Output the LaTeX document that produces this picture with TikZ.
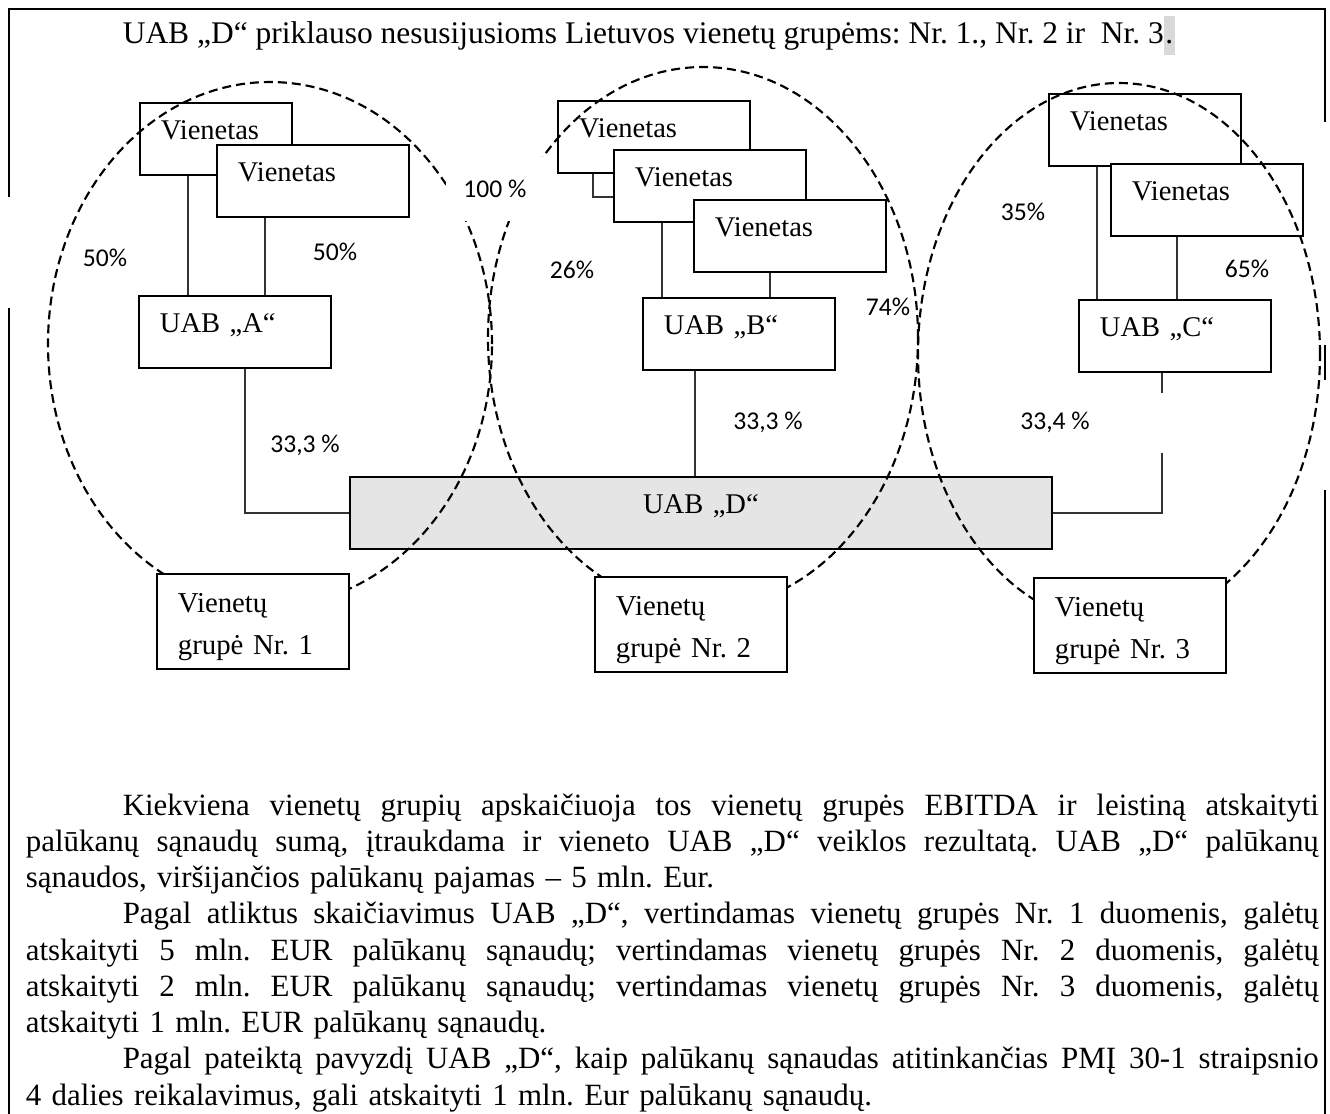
\documentclass[tikz,border=0pt]{standalone}
\usepackage{fontspec}
\setmainfont{Liberation Serif}
\newfontfamily\pctfont{Carlito}
\usetikzlibrary{positioning,calc}
\frenchspacing
\newdimen\pxu
\pxu=0.375pt
\newlength{\notewidth}
\setlength{\notewidth}{484.9pt}
\newcommand{\fullline}[1]{\leavevmode\hbox to \notewidth{\spaceskip=0.25em plus 1fil minus 0.05em\relax #1}}
\newcommand{\lastline}[1]{\leavevmode\hbox to \notewidth{#1\hfil}}
\tikzset{
  every picture/.style={line width=0.6pt},
  unitbox/.style={draw, fill=white, line width=0.7pt, anchor=north west,
    inner xsep=21\pxu, inner ysep=0pt, text width=150\pxu,
    text height=37\pxu, text depth=35\pxu, align=left,
    font=\fontsize{10.7pt}{12pt}\selectfont},
  groupbox/.style={unitbox, text height=39\pxu, text depth=56\pxu,
    font=\fontsize{10.8pt}{15.4pt}\selectfont},
  link/.style={line width=0.45pt, black!80},
  pct/.style={font=\pctfont\fontsize{9.6pt}{11pt}\selectfont, inner sep=1pt},
  grouprim/.style={line width=0.8pt, dash pattern=on 9\pxu off 5\pxu},
  frame/.style={line width=0.8pt}
}

\begin{document}
\begin{tikzpicture}[x=0.375pt, y=-0.375pt]
    \useasboundingbox (0,0) rectangle (1330,1113);
    % UAB D ir trys vienetu grupes
    \draw[frame] (9,197) -- (9,9) -- (1325,9) -- (1325,122);
    \draw[frame] (9,308) -- (9,1120);
    \draw[frame] (1325,345) -- (1325,380);
    \draw[frame] (1325,490) -- (1325,1120);
    \node[anchor=base west, inner sep=0pt, font=\fontsize{11.8pt}{13.6pt}\selectfont] (title) at (122,43)
        {UAB „D“ priklauso nesusijusioms Lietuvos vienetų grupėms: Nr. 1., Nr. 2 ir\ \ Nr. 3{\setlength{\fboxsep}{0.6pt}\colorbox{black!15}{\strut.}}};
    \node[unitbox, text width=110\pxu] (A1) at (139,102) {Vienetas};
    \node[unitbox] (A2) at (216,144) {Vienetas};
    \node[unitbox] (uabA) at (138,295) {UAB „A“};
    \node[unitbox] (B1) at (557,100) {Vienetas};
    \node[unitbox] (B2) at (613,149) {Vienetas};
    \node[unitbox] (B3) at (693,199) {Vienetas};
    \node[unitbox] (uabB) at (642,297) {UAB „B“};
    \node[unitbox] (C1) at (1048,93) {Vienetas};
    \node[unitbox] (C2) at (1110,163) {Vienetas};
    \node[unitbox] (uabC) at (1078,299) {UAB „C“};
    \node[unitbox, fill=black!10, text width=660\pxu, align=center] (uabD) at (349,476) {UAB „D“};
    \draw[link] ([xshift=49\pxu]A1.south west) -- ([xshift=49\pxu]A1.south west |- uabA.north);
    \draw[link] ([xshift=49\pxu]A2.south west) -- ([xshift=49\pxu]A2.south west |- uabA.north);
    \draw[link] ([xshift=36\pxu]B1.south west) |- ([yshift=-48\pxu]B2.north west);
    \draw[link] ([xshift=49\pxu]B2.south west) -- ([xshift=49\pxu]B2.south west |- uabB.north);
    \draw[link] ([xshift=77\pxu]B3.south west) -- ([xshift=77\pxu]B3.south west |- uabB.north);
    \draw[link] ([xshift=49\pxu]C1.south west) -- ([xshift=49\pxu]C1.south west |- uabC.north);
    \draw[link] ([xshift=67\pxu]C2.south west) -- ([xshift=67\pxu]C2.south west |- uabC.north);
    \draw[link] ([xshift=107\pxu]uabA.south west) |- (uabD.west);
    \draw[link] ([xshift=53\pxu]uabB.south west) -- ([xshift=53\pxu]uabB.south west |- uabD.north);
    \coordinate (cgap) at (1162,453);
    \draw[link] ([xshift=84\pxu]uabC.south west) -- ++(0,20);
    \draw[link] (cgap) |- (uabD.east);
    \draw[grouprim] (270,344) ellipse [x radius=222\pxu, y radius=262\pxu];
    \draw[grouprim] (703,338) ellipse [x radius=215\pxu, y radius=271\pxu];
    \draw[grouprim] (1119,354) ellipse [x radius=201\pxu, y radius=271\pxu];
    \node[pct] (pctA1) at (105,258) {50\%};
    \node[pct] (pctA2) at (335,252) {50\%};
    \node[pct, fill=white, minimum width=98\pxu, minimum height=64\pxu] (pctB1) at (495,189) {100 \%};
    \node[pct] (pctB2) at (572,270) {26\%};
    \node[pct] (pctB3) at (888,307) {74\%};
    \node[pct] (pctC1) at (1023,212) {35\%};
    \node[pct] (pctC2) at (1247,269) {65\%};
    \node[pct] (pctDA) at (305,445) {33,3 \%};
    \node[pct] (pctDB) at (768,422) {33,3 \%};
    \node[pct] (pctDC) at (1055,422) {33,4 \%};
    \node[groupbox] (grp1) at (156,573) {Vienetų\\grupė Nr. 1};
    \node[groupbox] (grp2) at (594,576) {Vienetų\\grupė Nr. 2};
    \node[groupbox] (grp3) at (1033,577) {Vienetų\\grupė Nr. 3};
    \node[anchor=base west, inner sep=0pt, text width=\notewidth, align=left,
          font=\fontsize{11.6pt}{13.6pt}\selectfont] (notes) at (25,815) {%
        \fullline{\hspace*{97\pxu}Kiekviena vienetų grupių apskaičiuoja tos vienetų grupės EBITDA ir leistiną atskaityti}\\
        \fullline{palūkanų sąnaudų sumą, įtraukdama ir vieneto UAB „D“ veiklos rezultatą. UAB „D“ palūkanų}\\
        \lastline{sąnaudos, viršijančios palūkanų pajamas – 5 mln. Eur.}\\
        \fullline{\hspace*{97\pxu}Pagal atliktus skaičiavimus UAB „D“, vertindamas vienetų grupės Nr. 1 duomenis, galėtų}\\
        \fullline{atskaityti 5 mln. EUR palūkanų sąnaudų; vertindamas vienetų grupės Nr. 2 duomenis, galėtų}\\
        \fullline{atskaityti 2 mln. EUR palūkanų sąnaudų; vertindamas vienetų grupės Nr. 3 duomenis, galėtų}\\
        \lastline{atskaityti 1 mln. EUR palūkanų sąnaudų.}\\
        \fullline{\hspace*{97\pxu}Pagal pateiktą pavyzdį UAB „D“, kaip palūkanų sąnaudas atitinkančias PMĮ 30-1 straipsnio}\\
        \lastline{4 dalies reikalavimus, gali atskaityti 1 mln. Eur palūkanų sąnaudų.}};
\end{tikzpicture}
\end{document}
